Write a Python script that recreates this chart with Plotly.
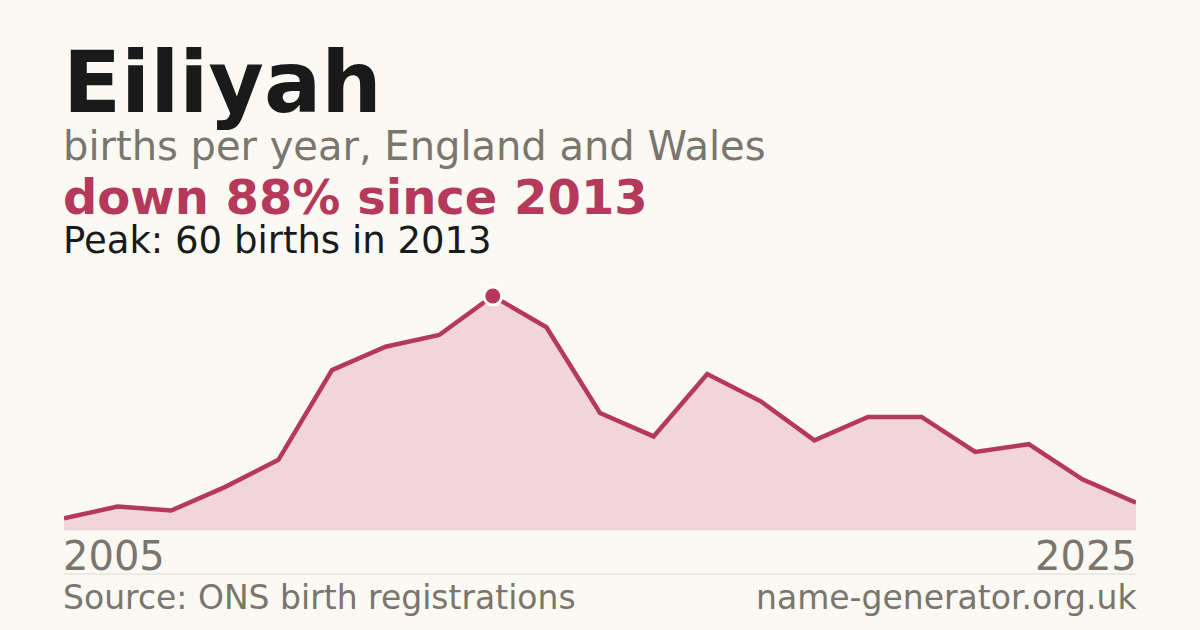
import plotly.graph_objects as go

years = list(range(2005, 2026))
births = [3, 6, 5, 11, 18, 41, 47, 50, 60, 52, 30, 24, 40, 33, 23, 29, 29, 20, 22, 13, 7]
peak_year = 2013
peak_value = 60
name = "Eiliyah"
subtitle = "births per year, England and Wales"
change_text = "down 88% since 2013"
peak_text = "Peak: 60 births in 2013"
source_text = "Source: ONS birth registrations"
site_text = "name-generator.org.uk"
first_label = "2005"
last_label = "2025"

W, H = 1200, 630
L, R = 64, 64
TOP, BASE = 296, 530
PH = BASE - TOP
PW = W - L - R
PAD = 3 / PW

BG = "#faf9f4"
RED = "#b5395a"
FILL = "#f1d5db"
GREY = "#7a756d"
DARK = "#1a1a1a"
FONT = "DejaVu Sans"


def py(p):
    return (BASE - p) / PH


def center(baseline, size):
    return py(baseline - 0.35 * size)


fig = go.Figure()
fig.add_trace(go.Scatter(
    x=years, y=births, mode="lines", fill="tozeroy",
    fillcolor=FILL, line=dict(color=RED, width=4.5),
    hoverinfo="skip", cliponaxis=False,
))
fig.add_trace(go.Scatter(
    x=[peak_year], y=[peak_value], mode="markers",
    marker=dict(color=RED, size=18, line=dict(color="white", width=3)),
    hoverinfo="skip", cliponaxis=False,
))

ann = [
    dict(text=f"<b>{name}</b>", b=112, size=85, color=DARK, x=-PAD, xa="left"),
    dict(text=subtitle, b=160, size=40, color=GREY, x=-PAD, xa="left"),
    dict(text=f"<b>{change_text}</b>", b=214, size=48, color=RED, x=-PAD, xa="left"),
    dict(text=peak_text, b=253, size=37, color=DARK, x=-PAD, xa="left"),
    dict(text=first_label, b=570, size=40, color=GREY, x=-PAD, xa="left"),
    dict(text=last_label, b=570, size=40, color=GREY, x=1 + PAD, xa="right"),
    dict(text=source_text, b=609, size=33, color=GREY, x=-PAD, xa="left"),
    dict(text=site_text, b=609, size=33, color=GREY, x=1 + PAD, xa="right"),
]
annotations = [
    dict(text=a["text"], x=a["x"], y=center(a["b"], a["size"]),
         xref="paper", yref="paper",
         xanchor=a["xa"], yanchor="middle", showarrow=False,
         font=dict(family=FONT, size=a["size"], color=a["color"]))
    for a in ann
]

fig.update_layout(
    width=W, height=H,
    paper_bgcolor=BG, plot_bgcolor=BG,
    margin=dict(l=L, r=R, t=TOP, b=H - BASE),
    showlegend=False,
    xaxis=dict(range=[years[0], years[-1]], visible=False, fixedrange=True),
    yaxis=dict(range=[0, peak_value], visible=False, fixedrange=True),
    annotations=annotations,
    shapes=[
        dict(type="line", xref="paper", yref="paper", x0=0, x1=1,
             y0=py(574), y1=py(574), line=dict(color="#dedad2", width=1)),
        dict(type="line", xref="paper", yref="paper", x0=0, x1=1,
             y0=0, y1=0, line=dict(color="#e6e2da", width=1), layer="below"),
    ],
)

fig.write_html(
    "out.html",
    config={"displayModeBar": False, "staticPlot": True},
    post_script="document.body.style.margin='0';document.body.style.background='#faf9f4';",
)
